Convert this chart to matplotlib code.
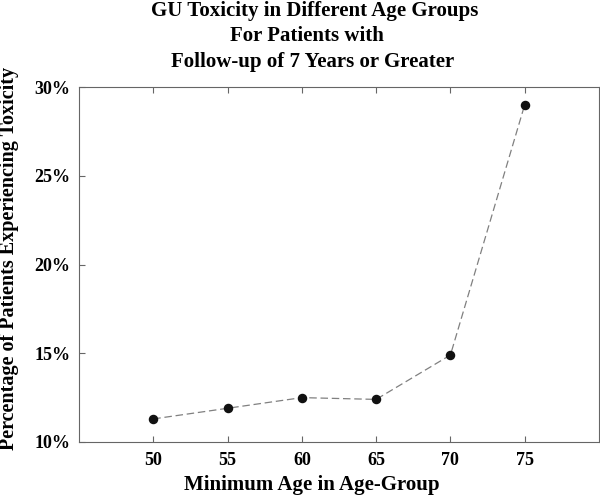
import matplotlib
matplotlib.use("Agg")
import matplotlib.pyplot as plt
from matplotlib.ticker import FuncFormatter

ages = [50, 55, 60, 65, 70, 75]
toxicity = [11.3, 11.9, 12.5, 12.4, 14.9, 29.0]
yticks = [10, 15, 20, 25, 30]

plt.rcParams['font.family'] = ['Liberation Serif', 'DejaVu Serif']
plt.rcParams['font.weight'] = 'bold'

W, H = 600, 495
fig = plt.figure(figsize=(6, 4.95), dpi=100)
L, R, T, B = 79, 599, 87, 442
ax = fig.add_axes([L/W, 1-B/H, (R-L)/W, (B-T)/H])

ax.plot(ages, toxicity, color='#808080', linestyle=(0, (6, 3)), linewidth=0.9, zorder=1)
ax.scatter(ages, toxicity, color='#111111', s=34, zorder=2)

ax.set_xlim(45, 80)
ax.set_ylim(10, 30)
ax.set_xticks(ages)
ax.set_yticks(yticks)
ax.yaxis.set_major_formatter(FuncFormatter(lambda v, p: f"{int(v)}%"))
ax.tick_params(axis='both', direction='in', length=4, color='#666666', labelsize=13,
               top=True, right=False)
ax.tick_params(axis='x', pad=7)
ax.tick_params(axis='y', pad=6)
for lab in ax.get_xticklabels() + ax.get_yticklabels():
    lab.set_fontweight('bold')
for s in ax.spines.values():
    s.set_color('#666666')
    s.set_linewidth(0.8)

ax.set_xlabel('Minimum Age in Age-Group', fontsize=15, fontweight='bold')
ax.xaxis.set_label_coords((312 - L)/(R - L), (B - 485)/(B - T), transform=ax.transAxes)
ax.set_ylabel('Percentage of Patients Experiencing Toxicity', fontsize=14.5, fontweight='bold')
ax.yaxis.set_label_coords((9 - L)/(R - L), (B - 258)/(B - T), transform=ax.transAxes)
ax.xaxis.label.set_va('center')
ax.yaxis.label.set_va('center')

fig.text(315/W, 1-11/H, 'GU Toxicity in Different Age Groups', ha='center', va='center', fontsize=15, fontweight='bold')
fig.text(307/W, 1-36/H, 'For Patients with', ha='center', va='center', fontsize=15, fontweight='bold')
fig.text(313/W, 1-62/H, 'Follow-up of 7 Years or Greater', ha='center', va='center', fontsize=15, fontweight='bold')

fig.savefig('out.png', dpi=100)
